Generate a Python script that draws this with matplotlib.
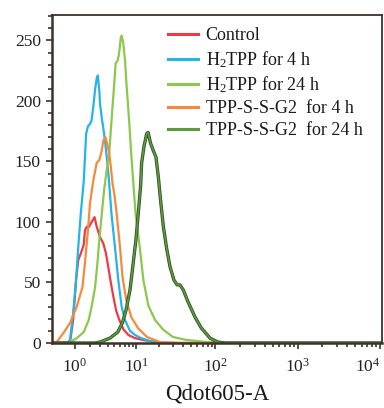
import numpy as np
import matplotlib
matplotlib.use('Agg')
import matplotlib.pyplot as plt
from matplotlib.ticker import FixedLocator, NullFormatter, FuncFormatter
from matplotlib.lines import Line2D
import matplotlib.patheffects as pe

plt.rcParams['font.family'] = ['Liberation Serif', 'DejaVu Serif']
plt.rcParams['mathtext.fontset'] = 'custom'
plt.rcParams['mathtext.rm'] = 'Liberation Serif'
plt.rcParams['mathtext.it'] = 'Liberation Serif:italic'

# fluorescence (Qdot605-A) and event counts
control_x = [0.05, 0.69, 0.77, 0.9, 1.06, 1.19, 1.35, 1.55, 1.64, 1.77, 1.97, 2.18, 2.45,
             2.67, 3.02, 3.4, 3.75, 4.06, 4.45, 4.85, 5.3, 5.9, 6.78, 7.9, 9.7, 12.4,
             17.7, 27, 10500]
control_y = [0, 0, 4, 19, 52, 68.5, 74, 81, 93, 96, 96, 100, 104,
             96, 87.5, 82.5, 74, 63, 49.5, 38, 27, 19, 11, 6.6, 4, 2.5,
             0.8, 0, 0]

h2tpp4_x = [0.05, 0.645, 0.74, 0.9, 1.06, 1.19, 1.35, 1.55, 1.73, 1.87, 2.04, 2.18, 2.33,
            2.5, 2.67, 2.78, 2.94, 3.02, 3.22, 3.4, 3.62, 3.9, 4.2, 4.53, 5.11, 5.7,
            6.36, 7.08, 8.29, 9.69, 11.7, 15.25, 20.5, 36.5, 10500]
h2tpp4_y = [0, 0.8, 2.5, 24.8, 52, 79, 107, 133, 173, 179, 181, 184, 195,
            209, 219, 221, 209, 198, 186, 178, 167, 151, 132, 107, 79, 52,
            30, 19, 10, 6.6, 4, 1.6, 0.4, 0, 0]

h2tpp24_x = [0.05, 0.32, 0.74, 1.1, 1.55, 1.93, 2.18, 2.5, 2.74, 2.94, 3.23, 3.5, 3.85,
             4.2, 4.55, 4.93, 5.22, 5.59, 5.85, 6.17, 6.37, 6.7, 7.08, 7.48, 8.06,
             8.6, 9.2, 9.85, 11.3, 12.5, 14.5, 17.7, 22.5, 29.8, 44, 80, 150, 10500]
h2tpp24_y = [0, 0, 0.8, 4, 9, 19, 30, 46, 66, 85, 107, 126, 143,
             157, 184, 211, 231, 233.5, 239, 252, 254, 247.5, 233.5, 211, 184,
             157, 132, 107, 77, 52, 31, 19, 11, 5, 2.5, 0.8, 0, 0]

tpp4_x = [0.05, 0.2, 0.44, 0.74, 1.1, 1.46, 1.64, 1.87, 2.04, 2.33, 2.67, 2.94, 3.23,
          3.4, 3.68, 3.9, 4.2, 4.45, 4.7, 5.03, 5.4, 6.03, 6.55, 7.4, 8.7, 10.7,
          13.9, 20.5, 36.5, 10500]
tpp4_y = [0, 0.8, 8, 16.5, 30, 46, 66, 93, 115.5, 134, 149, 151, 159,
          167, 170, 165, 157, 145, 132, 122, 107, 79, 54, 35, 21, 12,
          5, 0.8, 0, 0]

tpp24_x = [0.05, 2.5, 3.02, 4.3, 5.6, 6.5, 7.3, 8.3, 9.2, 9.95, 10.7, 11.5, 11.85,
           12.7, 13.8, 14.4, 15.5, 16.8, 18.2, 19.5, 21, 22.6, 25, 27.4, 30.7,
           33.7, 36.5, 40, 46, 56, 67, 86, 107, 130, 10500]
tpp24_y = [0, 0, 0.8, 4, 9, 16.5, 27, 44, 67, 85, 107, 130, 148.5,
           162, 173, 174, 165, 159, 153.5, 137, 115.5, 96, 77, 63, 52,
           48, 48, 44, 34, 21.5, 12.4, 4, 0.8, 0, 0]

labels = ['Control', 'H$_2$TPP for 4 h', 'H$_2$TPP for 24 h',
          'TPP-S-S-G2  for 4 h', 'TPP-S-S-G2  for 24 h']
colors = ['#ee3a45', '#25b4e6', '#8cc84b', '#f7893c', '#5d9a3c']
frame_col = '#3b322c'


def fwd(x):
    x = np.asarray(x, dtype=float)
    return np.sign(x) * np.log10(1 + np.abs(x))


def inv(y):
    y = np.asarray(y, dtype=float)
    return np.sign(y) * (10 ** np.abs(y) - 1)


fig = plt.figure(figsize=(3.84, 4.08), dpi=100)
ax = fig.add_axes([0.1354, 0.1593, 0.8594, 0.8039])
ax.set_xscale('function', functions=(fwd, inv))

series = [(control_x, control_y), (h2tpp4_x, h2tpp4_y), (h2tpp24_x, h2tpp24_y),
          (tpp4_x, tpp4_y)]
for (xs, ys), c in zip(series, colors[:4]):
    ax.plot(xs, ys, color=c, lw=1.6, solid_joinstyle='round')
ax.plot(tpp24_x, tpp24_y, color=colors[4], lw=1.2,
        path_effects=[pe.Stroke(linewidth=2.4, foreground='#34502a'), pe.Normal()])

ax.set_xlim(0.052, 10570)
ax.set_ylim(0, 271)

ax.xaxis.set_major_locator(FixedLocator([1, 10, 100, 1000, 10000]))
minors = [m * 10 ** d for d in range(4) for m in range(2, 10)]
ax.xaxis.set_minor_locator(FixedLocator(minors))
ax.xaxis.set_major_formatter(FuncFormatter(lambda v, p: '$10^{%d}$' % round(np.log10(v))))
ax.xaxis.set_minor_formatter(NullFormatter())

ax.yaxis.set_major_locator(FixedLocator(range(0, 251, 50)))
ax.yaxis.set_minor_locator(FixedLocator(range(0, 271, 10)))

for s in ax.spines.values():
    s.set_color(frame_col)
    s.set_linewidth(1.3)
ax.spines['left'].set_linewidth(1.8)
ax.spines['bottom'].set_linewidth(1.8)

ax.tick_params(which='both', direction='out', color=frame_col, width=1.2,
               labelsize=12.5, labelcolor='#222222')
ax.tick_params(which='major', length=4.5)
ax.tick_params(which='minor', length=3)
ax.tick_params(axis='x', pad=6)

# last decade label sits against the right edge, as in the original
fig.canvas.draw()
ax.get_xticklabels()[-1].set_horizontalalignment('right')

ax.set_xlabel('Qdot605-A', fontsize=16.5, labelpad=6, color='#1a1a1a')

handles = [Line2D([], [], color=c, lw=2.2) for c in colors]
ax.legend(handles, labels, loc='upper left', bbox_to_anchor=(0.329, 0.985),
          frameon=False, fontsize=13, handlelength=1.7, handletextpad=0.4,
          labelspacing=0.27, borderaxespad=0, labelcolor='#1a1a1a')

fig.savefig('out.png', dpi=100)
